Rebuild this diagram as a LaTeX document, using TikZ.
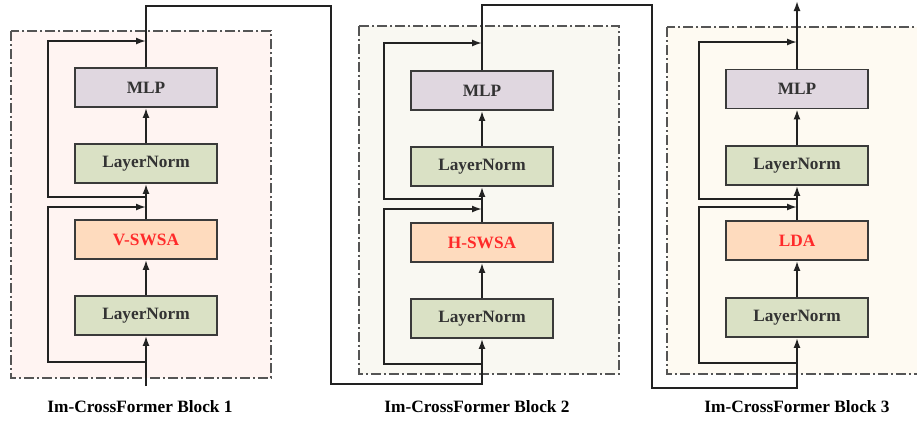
\documentclass[tikz,border=0pt]{standalone}
\usepackage{fontspec}
\setmainfont{Liberation Serif}
\usetikzlibrary{arrows.meta}

\definecolor{inkgrey}{HTML}{333333}
\definecolor{boxline}{HTML}{3A3A3A}
\definecolor{lineblack}{HTML}{222222}
\definecolor{framegrey}{HTML}{555555}
\definecolor{mlpfill}{HTML}{E0D7E0}
\definecolor{normfill}{HTML}{DAE1C5}
\definecolor{attfill}{HTML}{FEDBBE}
\definecolor{attred}{HTML}{FF2A2A}
\definecolor{paneone}{HTML}{FFF4F2}
\definecolor{panetwo}{HTML}{F9F8F2}
\definecolor{panethree}{HTML}{FEFAF2}

\tikzset{
  box/.style={draw=boxline, line width=1.9pt, minimum width=142pt,
    minimum height=39pt, inner sep=0pt,
    font=\fontsize{17.3}{20}\selectfont\bfseries, text=inkgrey},
  mlpbox/.style={box, fill=mlpfill},
  normbox/.style={box, fill=normfill},
  attbox/.style={box, fill=attfill, text=attred},
  pane/.style={draw=framegrey, line width=1.4pt,
    dash pattern=on 10pt off 3pt on 2pt off 3pt},
  flow/.style={draw=lineblack, line width=1.7pt, -{Latex[length=10pt,width=7pt]}},
  caption/.style={font=\fontsize{17.3}{20}\selectfont\bfseries, text=black}
}

\begin{document}
\begin{tikzpicture}[x=1pt, y=-1pt]
\useasboundingbox (0,0) rectangle (917,421);
\clip (0,0) rectangle (917,421);

% dash-dotted panes behind each block
\draw[pane, fill=paneone]   (11,31) rectangle (271,378);
\draw[pane, fill=panetwo]   (359,26) rectangle (619,374);
\draw[pane, fill=panethree] (667,27) rectangle (927,374);

% ---------- Block 1 ----------
\node[mlpbox]  (mlp1) at (146,87.5)  {MLP};
\node[normbox] (lnb1) at (146,163.5) {LayerNorm};
\node[attbox]  (att1) at (146,239.5) {V-SWSA};
\node[normbox] (lna1) at (146,315.5) {LayerNorm};

\coordinate (in1) at (146,386);
\coordinate (ra1) at (146,362);
\coordinate (rb1) at (48,362);
\coordinate (rc1) at (48,207);
\coordinate (rd1) at (146,207);
\coordinate (re1) at (146,197);
\coordinate (rf1) at (48,197);
\coordinate (rg1) at (48,41);
\coordinate (rh1) at (146,41);

\draw[flow] (in1) -- (lna1.south);
\draw[flow] (lna1) -- (att1);
\draw[flow] (att1) -- (lnb1);
\draw[flow] (lnb1) -- (mlp1);
\draw[flow] (ra1) -- (rb1) -- (rc1) -- (rd1);
\draw[flow] (re1) -- (rf1) -- (rg1) -- (rh1);

% ---------- Block 2 ----------
\node[mlpbox]  (mlp2) at (482,90.5)  {MLP};
\node[normbox] (lnb2) at (482,166.5) {LayerNorm};
\node[attbox]  (att2) at (482,242.5) {H-SWSA};
\node[normbox] (lna2) at (482,318.5) {LayerNorm};

\coordinate (ra2) at (482,364);
\coordinate (rb2) at (384,364);
\coordinate (rc2) at (384,209);
\coordinate (rd2) at (482,209);
\coordinate (re2) at (482,199);
\coordinate (rf2) at (384,199);
\coordinate (rg2) at (384,43);
\coordinate (rh2) at (482,43);

\draw[flow] (lna2) -- (att2);
\draw[flow] (att2) -- (lnb2);
\draw[flow] (lnb2) -- (mlp2);
\draw[flow] (ra2) -- (rb2) -- (rc2) -- (rd2);
\draw[flow] (re2) -- (rf2) -- (rg2) -- (rh2);

% ---------- Block 3 ----------
\node[mlpbox]  (mlp3) at (797,89)    {MLP};
\node[normbox] (lnb3) at (797,165.5) {LayerNorm};
\node[attbox]  (att3) at (797,240.5) {LDA};
\node[normbox] (lna3) at (797,317.5) {LayerNorm};

\coordinate (ra3) at (797,363);
\coordinate (rb3) at (699,363);
\coordinate (rc3) at (699,207);
\coordinate (rd3) at (797,207);
\coordinate (re3) at (797,199);
\coordinate (rf3) at (699,199);
\coordinate (rg3) at (699,42);
\coordinate (rh3) at (797,42);
\coordinate (out3) at (797,1);

\draw[flow] (lna3) -- (att3);
\draw[flow] (att3) -- (lnb3);
\draw[flow] (lnb3) -- (mlp3);
\draw[flow] (ra3) -- (rb3) -- (rc3) -- (rd3);
\draw[flow] (re3) -- (rf3) -- (rg3) -- (rh3);
\draw[flow] (mlp3) -- (out3);

% ---------- links between blocks ----------
\coordinate (ka) at (146,6);
\coordinate (kb) at (331,6);
\coordinate (kc) at (331,384);
\coordinate (kd) at (482,384);
\draw[flow] (mlp1.north) -- (ka) -- (kb) -- (kc) -- (kd) -- (lna2.south);

\coordinate (la) at (482,5);
\coordinate (lb) at (652,5);
\coordinate (lc) at (652,388);
\coordinate (ld) at (797,388);
\draw[flow] (mlp2.north) -- (la) -- (lb) -- (lc) -- (ld) -- (lna3.south);

% ---------- captions ----------
\node[caption] (cap1) at (140,407) {Im-CrossFormer Block 1};
\node[caption] (cap2) at (477,407) {Im-CrossFormer Block 2};
\node[caption] (cap3) at (797,407) {Im-CrossFormer Block 3};
\end{tikzpicture}
\end{document}
